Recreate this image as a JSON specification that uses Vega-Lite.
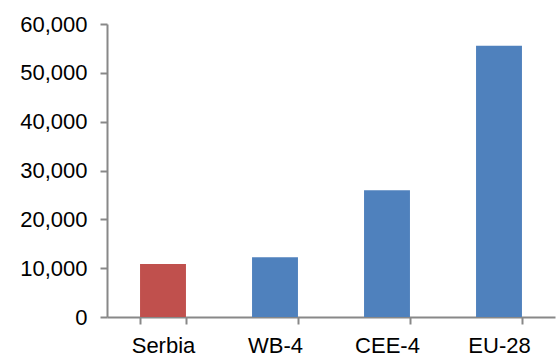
{
  "$schema": "https://vega.github.io/schema/vega-lite/v6.json",
  "autosize": {"type": "none"},
  "padding": {"left": 107, "top": 24, "right": 1, "bottom": 41},
  "width": 448,
  "height": 293,
  "background": "white",
  "config": {
    "view": {"stroke": null},
    "font": "Liberation Sans"
  },
  "data": {
    "values": [
      {"region": "Serbia", "value": 10860, "group": "Serbia"},
      {"region": "WB-4", "value": 12230, "group": "Peers"},
      {"region": "CEE-4", "value": 25960, "group": "Peers"},
      {"region": "EU-28", "value": 55530, "group": "Peers"}
    ]
  },
  "mark": {"type": "bar"},
  "encoding": {
    "x": {
      "field": "region",
      "type": "nominal",
      "sort": null,
      "scale": {"paddingInner": 0.59, "paddingOuter": 0.295},
      "axis": {
        "title": null,
        "labelAngle": 0,
        "labelFontSize": 22,
        "labelColor": "#000000",
        "labelPadding": 11,
        "domainColor": "#888888",
        "domainWidth": 2,
        "tickColor": "#888888",
        "tickWidth": 2,
        "tickSize": 7,
        "tickBand": "extent"
      }
    },
    "y": {
      "field": "value",
      "type": "quantitative",
      "scale": {"domain": [0, 60000], "nice": false},
      "axis": {
        "title": null,
        "values": [0, 10000, 20000, 30000, 40000, 50000, 60000],
        "format": ",.0f",
        "grid": false,
        "labelFontSize": 22,
        "labelColor": "#000000",
        "labelPadding": 13,
        "domainColor": "#888888",
        "domainWidth": 2,
        "tickColor": "#888888",
        "tickWidth": 2,
        "tickSize": 7
      }
    },
    "color": {
      "field": "group",
      "type": "nominal",
      "scale": {"domain": ["Serbia", "Peers"], "range": ["#C0504D", "#4F81BD"]},
      "legend": null
    }
  }
}
